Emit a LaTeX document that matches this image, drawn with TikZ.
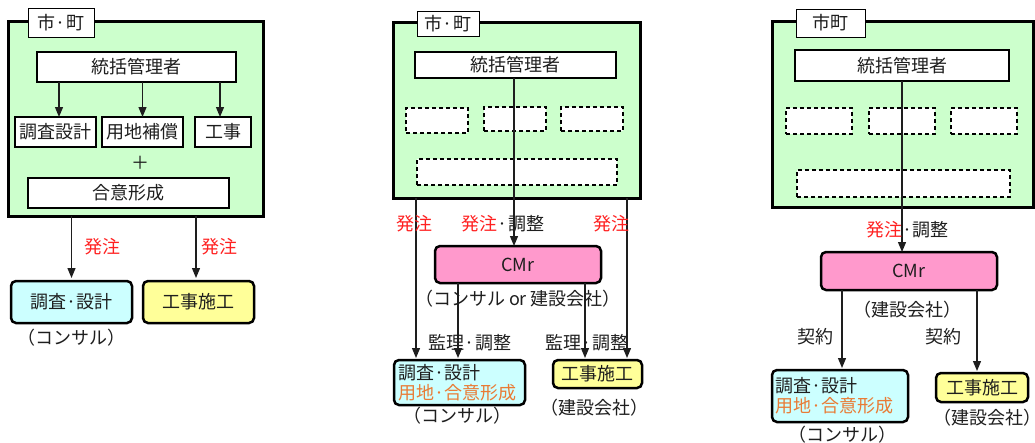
\documentclass[tikz,border=0pt]{standalone}
\usepackage{fontspec}
\setmainfont{Noto Sans CJK JP}
\usetikzlibrary{arrows.meta}
\definecolor{gfill}{HTML}{CCFFCC}
\definecolor{cfill}{HTML}{CCFFFF}
\definecolor{yfill}{HTML}{FFFF99}
\definecolor{pfill}{HTML}{FF99CC}
\definecolor{redtxt}{HTML}{FF2020}
\definecolor{orgtxt}{HTML}{E97B35}
\definecolor{txtc}{HTML}{1E1E1E}
\tikzset{
  base/.style={inner sep=0pt, outer sep=0pt, font=\fontsize{18}{20}\selectfont, text=txtc},
  grp/.style={base, draw=black, fill=gfill, line width=3pt},
  lab/.style={base, draw=black, fill=white, line width=1pt},
  tbox/.style={base, draw=black, fill=white, line width=2.6pt},
  dbox/.style={base, draw=black, fill=white, line width=1.4pt, dash pattern=on 4pt off 3pt},
  rbox/.style={base, draw=black, line width=2.5pt, rounded corners=5pt},
  txt/.style={base},
  arr/.style={line width=1.2pt, draw=txtc, -{Triangle[length=10pt,width=8pt]}},
  ln/.style={line width=1.2pt, draw=txtc}
}
\begin{document}
\begin{tikzpicture}[x=1pt,y=-1pt]
\useasboundingbox (0,0) rectangle (1035,442);
% ---------------- Panel 1 ----------------
\node[grp, minimum width=255pt, minimum height=195pt] (g1) at (135.5,118.5) {};
\node[lab, minimum width=66pt, minimum height=29pt] (l1) at (61,22.5) {市·町};
\node[tbox, minimum width=199pt, minimum height=30pt] (t1) at (136.5,67) {統括管理者};
\node[tbox, minimum width=81pt, minimum height=30pt] (a1) at (55.5,132) {調査設計};
\node[tbox, minimum width=81pt, minimum height=30pt] (b1) at (142.5,132) {用地補償};
\node[tbox, minimum width=56pt, minimum height=30pt] (c1) at (223,132) {工事};
\node[txt] (plus1) at (140,163) {＋};
\node[tbox, minimum width=201pt, minimum height=30pt] (d1) at (128.5,193) {合意形成};
\coordinate (a1t) at ([xshift=3.5pt]a1.north);
\coordinate (c1t) at ([xshift=-3pt]c1.north);
\draw[arr] (a1t |- t1.south) -- (a1t);
\draw[arr] (b1.north |- t1.south) -- (b1.north);
\draw[arr] (c1t |- t1.south) -- (c1t);
\node[rbox, fill=cfill, minimum width=121pt, minimum height=42pt] (e1) at (71.5,302) {調査·設計};
\node[rbox, fill=yfill, minimum width=111pt, minimum height=42pt] (f1) at (198.5,302) {工事施工};
\coordinate (f1t) at ([xshift=-2.5pt]f1.north);
\draw[arr, shorten >=3pt] (e1.north |- g1.south) -- (e1.north);
\draw[arr, shorten >=3pt] (f1t |- g1.south) -- (f1t);
\node[txt, text=redtxt] (o1a) at (102,247) {発注};
\node[txt, text=redtxt] (o1b) at (219,247) {発注};
\node[txt] (k1) at (71,338) {（コンサル）};
% ---------------- Panel 2 ----------------
\node[grp, minimum width=247pt, minimum height=176pt] (g2) at (516.5,110) {};
\node[lab, minimum width=62pt, minimum height=25pt] (l2) at (448,23.5) {市·町};
\node[tbox, minimum width=201pt, minimum height=26pt] (t2) at (515.5,65) {統括管理者};
\node[dbox, minimum width=62pt, minimum height=25pt] (p2a) at (437,120.5) {};
\node[dbox, minimum width=62pt, minimum height=24pt] (p2b) at (515,119) {};
\node[dbox, minimum width=62pt, minimum height=24pt] (p2c) at (592,119) {};
\node[dbox, minimum width=200pt, minimum height=26pt] (p2d) at (517,172) {};
\node[rbox, fill=pfill, minimum width=166pt, minimum height=37pt] (cm2) at (518,264.5) {CMr};
\node[rbox, fill=cfill, minimum width=131pt, minimum height=45pt, text width=123pt, align=left] (e2) at (459.5,382.5) {調査·設計\\\textcolor{orgtxt}{用地·合意形成}};
\node[rbox, fill=yfill, minimum width=89pt, minimum height=28pt] (f2) at (597.5,374) {工事施工};
\coordinate (cm2t) at ([xshift=-4pt]cm2.north);
\draw[arr] (cm2t |- t2.south) -- (cm2t);
\coordinate (e2l) at ([xshift=-43.5pt]e2.north);
\coordinate (e2r) at ([xshift=-1.5pt]e2.north);
\coordinate (f2l) at ([xshift=-12.5pt]f2.north);
\coordinate (f2r) at ([xshift=29.5pt]f2.north);
\draw[arr, shorten >=2pt] (e2l |- g2.south) -- (e2l);
\draw[arr, shorten >=2pt] (f2r |- g2.south) -- (f2r);
\draw[arr, shorten >=2pt] (e2r |- cm2.south) -- (e2r);
\draw[arr, shorten >=2pt] (f2l |- cm2.south) -- (f2l);
\node[txt, text=redtxt] (o2a) at (414,224) {発注};
\node[txt] (o2b) at (503,224) {\textcolor{redtxt}{発注}·調整};
\node[txt, text=redtxt] (o2c) at (611,224) {発注};
\node[txt] (k2a) at (518,299) {（コンサル or 建設会社）};
\node[txt] (m2a) at (470,343) {監理·調整};
\node[txt] (m2b) at (587,343) {監理·調整};
\node[txt] (k2b) at (457,416) {（コンサル）};
\node[txt] (k2c) at (594,408) {（建設会社）};
% ---------------- Panel 3 ----------------
\node[grp, minimum width=261pt, minimum height=186pt] (g3) at (902.5,114) {};
\node[lab, minimum width=69pt, minimum height=28pt] (l3) at (830.5,23) {市町};
\node[tbox, minimum width=214pt, minimum height=31pt] (t3) at (902,65.5) {統括管理者};
\node[dbox, minimum width=66pt, minimum height=26pt] (p3a) at (819,121) {};
\node[dbox, minimum width=66pt, minimum height=26pt] (p3b) at (902,121) {};
\node[dbox, minimum width=66pt, minimum height=26pt] (p3c) at (984,121) {};
\node[dbox, minimum width=213pt, minimum height=27pt] (p3d) at (903.5,183.5) {};
\node[rbox, fill=pfill, minimum width=176pt, minimum height=38pt] (cm3) at (909,271) {CMr};
\node[rbox, fill=cfill, minimum width=136pt, minimum height=52pt, text width=130pt, align=left] (e3) at (840,396) {調査·設計\\\textcolor{orgtxt}{用地·合意形成}};
\node[rbox, fill=yfill, minimum width=92pt, minimum height=29pt] (f3) at (982,387.5) {工事施工};
\coordinate (cm3t) at ([xshift=-7pt]cm3.north);
\draw[arr] (cm3t |- t3.south) -- (cm3t);
\coordinate (e3t) at ([xshift=2pt]e3.north);
\coordinate (f3t) at ([xshift=-5pt]f3.north);
\draw[arr, shorten >=2pt] (e3t |- cm3.south) -- (e3t);
\draw[arr, shorten >=2pt] (f3t |- cm3.south) -- (f3t);
\node[txt] (o3) at (907.5,230) {\textcolor{redtxt}{発注}·調整};
\node[txt] (k3a) at (907,310) {（建設会社）};
\node[txt] (c3a) at (815,337) {契約};
\node[txt] (c3b) at (943,337) {契約};
\node[txt] (k3b) at (987,418) {（建設会社）};
\node[txt] (k3c) at (842,435) {（コンサル）};
\end{tikzpicture}
\end{document}
